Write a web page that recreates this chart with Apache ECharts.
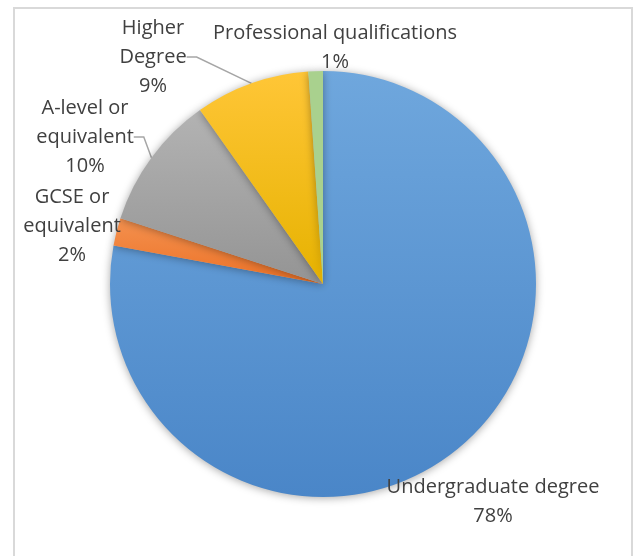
<!DOCTYPE html>
<html>
<head>
<meta charset="utf-8">
<script src="https://cdn.jsdelivr.net/npm/echarts@6/dist/echarts.min.js"></script>
<style>
  html, body { margin: 0; padding: 0; background: #fff; }
  #chart { width: 638px; height: 556px; }
</style>
</head>
<body>
<div id="chart"></div>
<script>
const categories = ['Undergraduate degree', 'GCSE or equivalent', 'A-level or equivalent', 'Higher Degree', 'Professional qualifications']
const shares = [77.9, 2.1, 10.2, 8.7, 1.1]

// label text wrapping as in the original
const wrapped = {
  'Undergraduate degree': 'Undergraduate degree',
  'GCSE or equivalent': 'GCSE or\nequivalent',
  'A-level or equivalent': 'A-level or\nequivalent',
  'Higher Degree': 'Higher\nDegree',
  'Professional qualifications': 'Professional qualifications'
}

// where each label sits (block centre), and which ones get a leader line
const labelPos = [[493, 502], [72, 226], [85, 137], [153, 57], [335, 48]]
const withLine = [false, false, true, true, false]

const fills = [
  ['#6fa7dd', '#4a86c8'],
  ['#f4914f', '#ec7126'],
  ['#b3b3b3', '#949494'],
  ['#ffc637', '#e6b200'],
  ['#a9d18e', '#a9d18e']
]

const grad = (c) => new echarts.graphic.LinearGradient(0, 0, 0, 1, [
  { offset: 0, color: c[0] },
  { offset: 1, color: c[1] }
])

const chart = echarts.init(document.getElementById('chart'))

chart.setOption({
  animation: false,
  graphic: [
    {
      type: 'rect',
      shape: { x: 14, y: 8, width: 618, height: 600 },
      style: { fill: 'none', stroke: '#d9d9d9', lineWidth: 2 },
      silent: true
    }
  ],
  series: [
    {
      type: 'pie',
      center: [323, 284],
      radius: 213,
      startAngle: 90,
      clockwise: true,
      percentPrecision: 0,
      data: categories.map((name, i) => ({
        name,
        value: shares[i],
        itemStyle: { color: grad(fills[i]) },
        labelLine: { show: withLine[i] }
      })),
      itemStyle: {
        borderWidth: 0,
        shadowBlur: 8,
        shadowColor: 'rgba(0,0,0,0.35)',
        shadowOffsetY: 1
      },
      label: {
        show: true,
        position: 'outside',
        formatter: (p) => wrapped[p.name] + '\n' + p.percent + '%',
        fontFamily: 'Open Sans',
        fontSize: 20,
        lineHeight: 29,
        color: '#404040',
        align: 'center',
        overflow: 'none'
      },
      labelLine: {
        length: 10,
        length2: 10,
        lineStyle: { color: '#a6a6a6', width: 1.5 }
      },
      labelLayout: (params) => {
        const p = labelPos[params.dataIndex]
        return { x: p[0], y: p[1], align: 'center', verticalAlign: 'middle' }
      }
    }
  ]
})
</script>
</body>
</html>
